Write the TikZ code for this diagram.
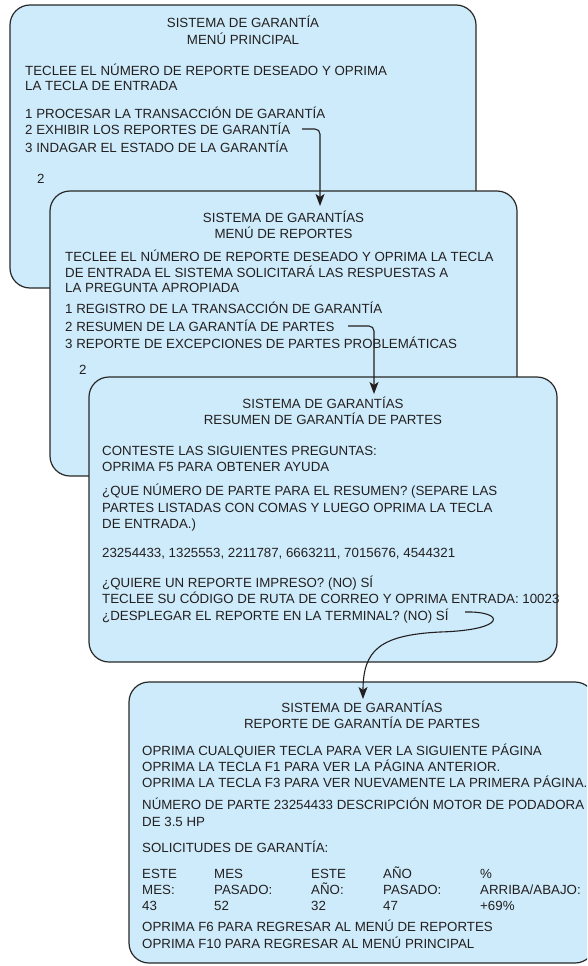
\documentclass[tikz,border=0pt]{standalone}
\usepackage{fontspec}
\setmainfont{Liberation Sans}
\usetikzlibrary{arrows.meta}
\definecolor{scrfill}{RGB}{205,235,250}
\definecolor{scrline}{RGB}{40,40,40}
\definecolor{ink}{RGB}{35,31,32}
\tikzset{
  screen/.style={draw=scrline, line width=1.2pt, fill=scrfill, rounded corners=20pt, inner sep=0pt},
  ln/.style={anchor=base west, inner sep=0pt, text=ink, font=\fontsize{13.3}{15}\selectfont},
  ttl/.style={anchor=base, inner sep=0pt, text=ink, font=\fontsize{13.3}{15}\selectfont},
  conn/.style={draw=ink, line width=1.1pt, -{Stealth[length=12pt,width=9pt,inset=3pt]}}
}
\begin{document}
\begin{tikzpicture}[x=1pt,y=-1pt]
\clip (0,0) rectangle (587,966);
% ---------- screen 1
\node[screen, minimum width=466pt, minimum height=283pt] (box1) at (243,146.5) {};
\node[ttl] (b1t1) at (243,28) {SISTEMA DE GARANTÍA};
\node[ttl] (b1t2) at (243,45) {MENÚ PRINCIPAL};
\node[ln] (b1l1) at (25,75) {TECLEE EL NÚMERO DE REPORTE DESEADO Y OPRIMA};
\node[ln] (b1l2) at (25,90) {LA TECLA DE ENTRADA};
\node[ln] (b1l3) at (25,118) {1 PROCESAR LA TRANSACCIÓN DE GARANTÍA};
\node[ln] (b1l4) at (25,134) {2 EXHIBIR LOS REPORTES DE GARANTÍA};
\node[ln] (b1l5) at (25,152) {3 INDAGAR EL ESTADO DE LA GARANTÍA};
\node[ln] (b1l6) at (37,183) {2};
% ---------- screen 2
\node[screen, minimum width=467pt, minimum height=285pt] (box2) at (283.5,333.5) {};
\node[ttl] (b2t1) at (283.5,222) {SISTEMA DE GARANTÍAS};
\node[ttl] (b2t2) at (283.5,238) {MENÚ DE REPORTES};
\node[ln] (b2l1) at (65,261) {TECLEE EL NÚMERO DE REPORTE DESEADO Y OPRIMA LA TECLA};
\node[ln] (b2l2) at (65,277) {DE ENTRADA EL SISTEMA SOLICITARÁ LAS RESPUESTAS A};
\node[ln] (b2l3) at (65,292) {LA PREGUNTA APROPIADA};
\node[ln] (b2l4) at (65,313) {1 REGISTRO DE LA TRANSACCIÓN DE GARANTÍA};
\node[ln] (b2l5) at (65,331) {2 RESUMEN DE LA GARANTÍA DE PARTES};
\node[ln] (b2l6) at (65,348) {3 REPORTE DE EXCEPCIONES DE PARTES PROBLEMÁTICAS};
\node[ln] (b2l7) at (79,374) {2};
% ---------- screen 3
\node[screen, minimum width=468pt, minimum height=285pt] (box3) at (323,519.5) {};
\node[ttl] (b3t1) at (323,408) {SISTEMA DE GARANTÍAS};
\node[ttl] (b3t2) at (323,424) {RESUMEN DE GARANTÍA DE PARTES};
\node[ln] (b3l1) at (102,455) {CONTESTE LAS SIGUIENTES PREGUNTAS:};
\node[ln] (b3l2) at (102,471) {OPRIMA F5 PARA OBTENER AYUDA};
\node[ln] (b3l3) at (102,495) {¿QUE NÚMERO DE PARTE PARA EL RESUMEN? (SEPARE LAS};
\node[ln] (b3l4) at (102,512) {PARTES LISTADAS CON COMAS Y LUEGO OPRIMA LA TECLA};
\node[ln] (b3l5) at (102,528) {DE ENTRADA.)};
\node[ln] (b3l6) at (102,557) {23254433, 1325553, 2211787, 6663211, 7015676, 4544321};
\node[ln] (b3l7) at (102,587) {¿QUIERE UN REPORTE IMPRESO? (NO) SÍ};
\node[ln] (b3l8) at (102,603) {TECLEE SU CÓDIGO DE RUTA DE CORREO Y OPRIMA ENTRADA: 10023};
\node[ln] (b3l9) at (102,620) {¿DESPLEGAR EL REPORTE EN LA TERMINAL? (NO) SÍ};
% ---------- screen 4
\node[screen, minimum width=466pt, minimum height=281pt] (box4) at (362,822.5) {};
\node[ttl] (b4t1) at (362,712) {SISTEMA DE GARANTÍAS};
\node[ttl] (b4t2) at (362,728) {REPORTE DE GARANTÍA DE PARTES};
\node[ln] (b4l1) at (142,755) {OPRIMA CUALQUIER TECLA PARA VER LA SIGUIENTE PÁGINA};
\node[ln] (b4l2) at (142,771) {OPRIMA LA TECLA F1 PARA VER LA PÁGINA ANTERIOR.};
\node[ln] (b4l3) at (142,787) {OPRIMA LA TECLA F3 PARA VER NUEVAMENTE LA PRIMERA PÁGINA.};
\node[ln] (b4l4) at (142,809) {NÚMERO DE PARTE 23254433 DESCRIPCIÓN MOTOR DE PODADORA};
\node[ln] (b4l5) at (142,826) {DE 3.5 HP};
\node[ln] (b4l6) at (142,852) {SOLICITUDES DE GARANTÍA:};
\node[ln] (c1r1) at (142,878) {ESTE};
\node[ln] (c1r2) at (142,894) {MES:};
\node[ln] (c1r3) at (142,910) {43};
\node[ln] (c2r1) at (214,878) {MES};
\node[ln] (c2r2) at (214,894) {PASADO:};
\node[ln] (c2r3) at (214,910) {52};
\node[ln] (c3r1) at (311,878) {ESTE};
\node[ln] (c3r2) at (311,894) {AÑO:};
\node[ln] (c3r3) at (311,910) {32};
\node[ln] (c4r1) at (383,878) {AÑO};
\node[ln] (c4r2) at (383,894) {PASADO:};
\node[ln] (c4r3) at (383,910) {47};
\node[ln] (c5r1) at (480,878) {\%};
\node[ln] (c5r2) at (480,894) {ARRIBA/ABAJO:};
\node[ln] (c5r3) at (480,910) {+69\%};
\node[ln] (b4l7) at (142,931) {OPRIMA F6 PARA REGRESAR AL MENÚ DE REPORTES};
\node[ln] (b4l8) at (142,948) {OPRIMA F10 PARA REGRESAR AL MENÚ PRINCIPAL};
% ---------- connectors
\coordinate (a1s) at (302,129);
\coordinate (a1e) at (320,206);
\coordinate (a2s) at (348,326);
\coordinate (a2e) at (374,394);
\coordinate (a3s) at (465,612);
\coordinate (a3m) at (440,632);
\coordinate (a3e) at (363,699);
\draw[conn, rounded corners=5pt] (a1s) -| (a1e);
\draw[conn, rounded corners=5pt] (a2s) -| (a2e);
\draw[conn] (a3s) .. controls (505,611) and (508,630) .. (a3m)
  .. controls (380,635) and (363,650) .. (a3e);
\end{tikzpicture}
\end{document}
